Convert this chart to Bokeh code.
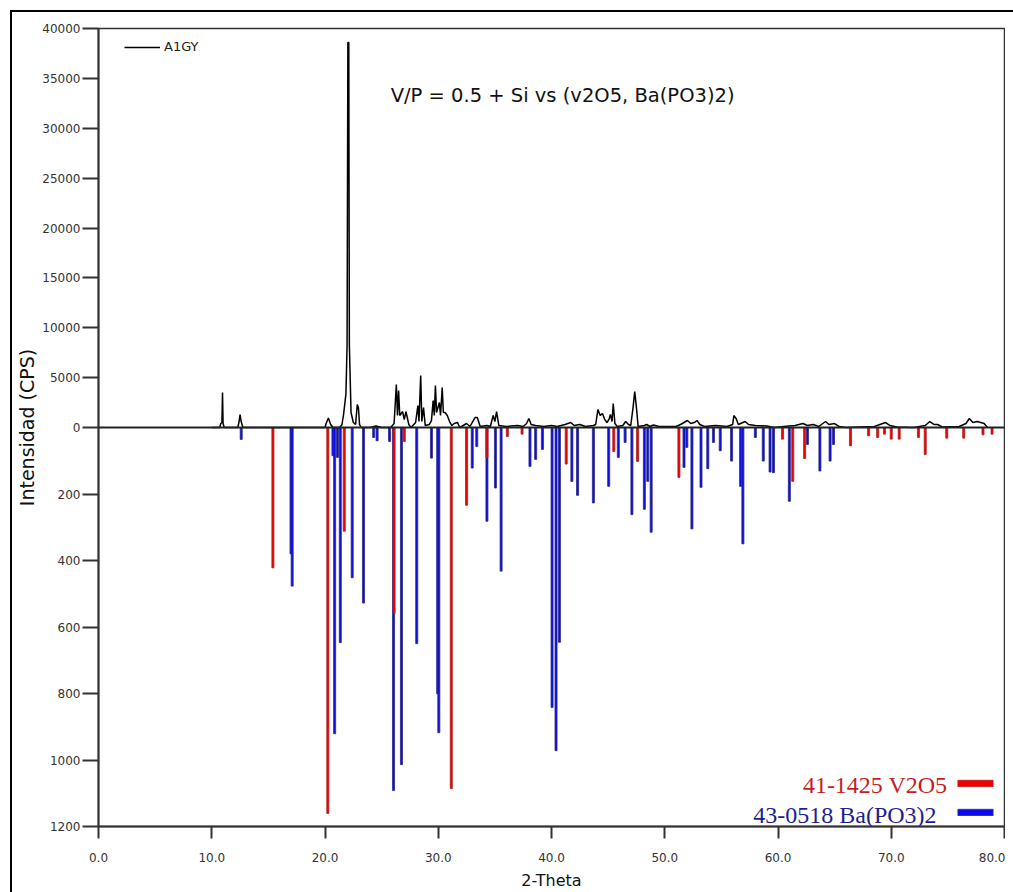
from bokeh.plotting import figure
from bokeh.models import (Range1d, FixedTicker, CustomJSTickFormatter, NumeralTickFormatter,
                          Span, Label, Legend, LegendItem, LinearAxis)
from bokeh.embed import file_html
from bokeh.resources import INLINE

# ---------------- data ----------------
# measured pattern A1GY (2-theta, CPS)
measured_tt = [10.0, 10.7, 10.8, 10.9, 10.95, 11.0, 11.1, 12.3, 12.4, 12.5, 12.6, 12.7, 12.8,
               20.0, 20.1, 20.3, 20.5, 20.7, 21.3, 21.5, 21.65, 21.85, 21.95, 22.02, 22.1, 22.15,
               22.3, 22.5, 22.7, 22.85, 22.95, 23.05, 23.2, 24.0, 24.5, 25.0, 25.8, 26.1, 26.3,
               26.4, 26.5, 26.6, 26.85, 27.0, 27.15, 27.4, 27.6, 28.0, 28.2, 28.3, 28.45, 28.55,
               28.7, 28.85, 29.2, 29.4, 29.55, 29.65, 29.75, 29.85, 30.1, 30.2, 30.35, 30.45,
               30.6, 30.8, 31.0, 31.2, 31.4, 31.7, 31.9, 32.5, 32.8, 33.25, 33.45, 33.7, 34.3,
               34.6, 34.85, 35.0, 35.15, 35.35, 36.0, 37.0, 37.5, 37.8, 38.0, 38.2, 38.6, 39.3,
               40.0, 40.5, 41.2, 41.7, 42.0, 42.5, 43.0, 43.7, 43.9, 44.1, 44.3, 44.5, 44.7,
               44.9, 45.1, 45.2, 45.35, 45.45, 45.6, 45.8, 46.3, 46.55, 46.8, 47.0, 47.2, 47.35,
               47.5, 47.65, 48.2, 48.4, 48.7, 49.0, 49.5, 51.0, 51.4, 51.7, 52.0, 52.3, 52.6,
               52.85, 53.1, 53.5, 54.5, 55.5, 56.0, 56.1, 56.3, 56.5, 57.1, 57.4, 58.0, 59.0,
               59.7, 60.5, 61.5, 62.2, 62.6, 63.1, 63.6, 64.2, 64.5, 65.0, 65.4, 66.0, 68.5,
               69.5, 69.9, 70.5, 72.0, 73.0, 73.4, 73.8, 74.1, 74.5, 76.0, 76.6, 76.9, 77.2,
               77.6, 78.2, 78.5]
measured_cps = [0, 0, 400, 500, 3500, 400, 0, 0, 500, 1300, 600, 200, 0,
                0, 400, 950, 300, 0, 0, 300, 1400, 3400, 8300, 38600, 38600, 8300,
                1500, 500, 300, 2300, 2000, 300, 0, 0, 150, 0, 0, 400, 4300,
                1200, 3700, 1200, 1600, 800, 1600, 300, 0, 500, 2200, 600, 5200, 600,
                2000, 200, 300, 700, 2700, 1200, 4200, 1500, 2500, 1200, 4000, 1500,
                1500, 1200, 600, 200, 400, 500, 0, 400, 100, 1000, 1000, 100, 200,
                100, 1200, 600, 1600, 200, 100, 200, 100, 400, 900, 300, 200, 100,
                200, 100, 300, 500, 200, 300, 100, 200, 300, 1800, 1200, 1400, 800,
                500, 900, 1300, 600, 2400, 400, 100, 200, 600, 300, 200, 2000, 3600,
                2000, 100, 200, 300, 100, 250, 100, 100, 300, 500, 700, 400, 500,
                700, 300, 100, 200, 100, 300, 1200, 900, 300, 600, 300, 200, 150,
                0, 100, 200, 400, 200, 300, 100, 600, 300, 400, 100, 0, 100,
                500, 200, 50, 0, 200, 600, 300, 300, 50, 100, 400, 900, 500,
                600, 400, 0]

# reference 41-1425 V2O5 (2-theta, intensity)
v2o5_tt = [15.4, 20.25, 21.7, 26.1, 27.0, 31.15, 32.5, 34.3, 36.1, 37.4, 41.3, 45.5, 47.6,
           51.25, 60.4, 61.3, 62.35, 66.4, 68.0, 68.8, 69.4, 70.0, 70.7, 72.4, 73.0, 74.9,
           76.4, 78.1, 78.9]
v2o5_int = [422, 1161, 312, 560, 42, 1086, 234, 90, 27, 20, 110, 72, 102,
            150, 35, 162, 93, 55, 25, 30, 20, 35, 35, 30, 81, 32,
            32, 22, 20]

# reference 43-0518 Ba(PO3)2 (2-theta, intensity)
bapo_tt = [12.6, 17.0, 17.1, 20.7, 20.85, 21.1, 21.35, 22.4, 23.4, 24.3, 24.6, 25.7, 26.05,
           26.75, 28.1, 29.4, 29.95, 30.05, 33.0, 33.4, 34.3, 35.05, 35.55, 38.1, 38.6, 39.2,
           40.05, 40.4, 40.7, 41.8, 42.3, 43.7, 45.05, 45.9, 46.5, 47.1, 48.2, 48.5, 48.8,
           51.7, 51.95, 52.4, 53.2, 53.8, 54.3, 54.9, 55.9, 56.7, 56.9, 58.0, 58.7, 59.3,
           59.6, 61.0, 62.6, 63.7, 64.6, 64.9]
bapo_int = [36, 380, 477, 85, 921, 90, 647, 452, 528, 30, 40, 42, 1092,
            1014, 650, 92, 801, 918, 122, 57, 282, 182, 432, 117, 96, 66,
            842, 972, 646, 162, 204, 227, 177, 90, 45, 262, 246, 162, 315,
            120, 60, 305, 180, 124, 45, 70, 101, 177, 350, 30, 101, 134,
            136, 222, 51, 131, 101, 51]

x_ticks = [0, 10, 20, 30, 40, 50, 60, 70, 80]
cps_ticks = [0, 5000, 10000, 15000, 20000, 25000, 30000, 35000, 40000]
ref_ticks = [200, 400, 600, 800, 1000, 1200]
CPS_MAX = 40000
REF_MAX = 1200

# ---------------- figure ----------------
p = figure(width=1005, height=892, x_range=Range1d(0, 80), y_range=Range1d(-CPS_MAX, CPS_MAX),
           output_backend="svg", toolbar_location=None,
           x_axis_location=None, y_axis_location=None,
           min_border_left=98, min_border_right=1, min_border_top=28, min_border_bottom=66)
p.extra_y_ranges = {"ref": Range1d(start=REF_MAX, end=-REF_MAX)}
p.xgrid.visible = False
p.ygrid.visible = False
p.outline_line_color = "#333333"
p.outline_line_width = 1.5
p.background_fill_color = "white"
p.border_fill_color = "white"
p.stylesheets = [":host::after{content:'';position:absolute;left:10px;top:10px;right:-20px;bottom:-20px;"
                 "border-left:2px solid #000;border-top:2px solid #000;pointer-events:none;}"]

# axes
yax = LinearAxis(ticker=FixedTicker(ticks=cps_ticks + [-v * CPS_MAX / REF_MAX for v in ref_ticks]),
                 formatter=CustomJSTickFormatter(args=dict(cmax=CPS_MAX, rmax=REF_MAX),
                     code="return tick >= 0 ? tick.toFixed(0) : Math.round(-tick*rmax/cmax).toFixed(0);"),
                 axis_label="Intensidad (CPS)")
xax = LinearAxis(ticker=FixedTicker(ticks=x_ticks), formatter=NumeralTickFormatter(format="0.0"),
                 axis_label="2-Theta")
for ax in (yax, xax):
    ax.axis_line_color = "#333333"
    ax.axis_line_width = 2
    ax.major_tick_line_color = "#333333"
    ax.major_tick_line_width = 2
    ax.major_tick_in = 0
    ax.minor_tick_line_color = None
    ax.major_label_text_font = "DejaVu Sans"
    ax.major_label_text_font_size = "12px"
    ax.major_label_text_color = "#333333"
    ax.axis_label_text_font = "DejaVu Sans"
    ax.axis_label_text_font_style = "normal"
    ax.axis_label_text_color = "#111111"
yax.major_tick_out = 16
yax.major_label_standoff = 2
yax.axis_label_standoff = 1
yax.axis_label_text_font_size = "19px"
xax.major_tick_out = 12
xax.major_label_standoff = 14
xax.axis_label_standoff = 6
xax.axis_label_text_font_size = "16px"
p.add_layout(yax, "left")
p.add_layout(xax, "below")

# reference sticks
r_bapo = p.vbar(x=bapo_tt, top=0, bottom=bapo_int, width=0.18, y_range_name="ref",
                fill_color="#0a0ae8", line_color="#2c2c8e", line_width=0.8)
r_v2o5 = p.vbar(x=v2o5_tt, top=0, bottom=v2o5_int, width=0.18, y_range_name="ref",
                fill_color="#f00000", line_color="#b41c1c", line_width=0.8)

# measured pattern
meas = p.line(measured_tt, measured_cps, line_color="black", line_width=1.5)

p.add_layout(Span(location=0, dimension="width", line_color="#222222", line_width=2))

# legend for measured pattern
leg1 = Legend(items=[LegendItem(label="A1GY", renderers=[meas])], location=(26, 772),
              padding=0, margin=0, glyph_width=36, glyph_height=12, label_height=12,
              label_standoff=4, border_line_alpha=0, background_fill_alpha=0,
              label_text_font="DejaVu Sans", label_text_font_size="13px", label_text_color="#222222")
p.add_layout(leg1)

# legend swatches for references (text drawn separately to the left)
leg2 = Legend(items=[LegendItem(label=" ", renderers=[r_v2o5]), LegendItem(label=" ", renderers=[r_bapo])],
              location=(855, 10), padding=0, margin=0, spacing=21, glyph_width=44, glyph_height=8,
              label_height=8, label_width=1, label_standoff=0, label_text_font_size="1px",
              border_line_alpha=0, background_fill_alpha=0)
p.add_layout(leg2)

p.add_layout(Label(x=74.97, y=-35880, text="41-1425 V2O5", text_align="right", text_baseline="middle",
                   text_font="Liberation Serif", text_font_size="24px", text_color="#c41e24"))
p.add_layout(Label(x=74.0, y=-38850, text="43-0518 Ba(PO3)2", text_align="right", text_baseline="middle",
                   text_font="Liberation Serif", text_font_size="24px", text_color="#1e1e8c"))

# title inside plot
p.add_layout(Label(x=25.8, y=33270, text="V/P = 0.5 + Si vs (v2O5, Ba(PO3)2)", text_align="left",
                   text_baseline="middle", text_font="DejaVu Sans", text_font_size="19.5px",
                   text_color="#111111"))

open("out.html", "w").write(file_html(p, INLINE))
